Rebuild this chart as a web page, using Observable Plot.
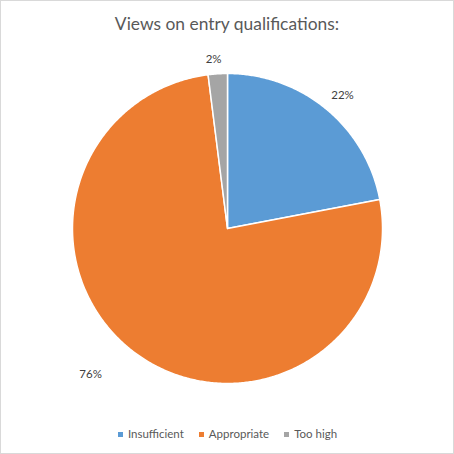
<!DOCTYPE html>
<html>
<head>
<meta charset="utf-8">
<script src="https://cdn.jsdelivr.net/npm/d3@7"></script>
<script src="https://cdn.jsdelivr.net/npm/@observablehq/plot@0.6"></script>
<style>
  html, body { margin: 0; padding: 0; background: #fff; }
  #frame {
    position: relative; width: 452px; height: 452px;
    border: 1px solid #d9d9d9; background: #fff; overflow: hidden;
    font-family: Lato, "Open Sans", sans-serif;
  }
  #title {
    position: absolute; left: 0; right: 0; top: 13.5px;
    text-align: center; font-size: 17.4px; line-height: 17.4px; color: #595959;
  }
  #chart { position: absolute; left: 0; top: 0; }
  #legend {
    position: absolute; left: 1px; right: 0; top: 427px;
    display: flex; justify-content: center; gap: 15px;
    font-size: 11.5px; line-height: 12px; color: #595959;
  }
  .item { display: flex; align-items: center; gap: 5px; }
  .swatch { width: 5px; height: 5px; }
</style>
</head>
<body>
<div id="frame">
  <div id="title">Views on entry qualifications:</div>
  <div id="chart"></div>
  <div id="legend"></div>
</div>
<script>
// Survey answers and their share of respondents (%)
const categories = ["Insufficient", "Appropriate", "Too high"];
const shares = [22, 76, 2];
const sliceColors = ["#5B9BD5", "#ED7D31", "#A5A5A5"];

// Layout of the pie inside the 452px frame
const W = 452, H = 452;
const cx = 226, cy = 227, R = 155;
// label placement: radial distance (in pie radii) and small angular shift (degrees)
const labelLayout = {
  "Insufficient": { radius: 176 / 155, shift: 1.2 },
  "Appropriate": { radius: 200 / 155, shift: 7.2 },
  "Too high": { radius: 170 / 155, shift: -1.1 }
};

const rows = categories.map((c, i) => ({ category: c, value: shares[i] }));
const arcs = d3.pie().sort(null).value(d => d.value)(rows);

// Outline each slice as a polygon: centre, points along the arc, centre
const outline = arcs.flatMap(a => {
  const pts = [{ category: a.data.category, x: 0, y: 0 }];
  const n = Math.max(2, Math.ceil((a.endAngle - a.startAngle) / (Math.PI / 360)));
  for (let k = 0; k <= n; k++) {
    const t = a.startAngle + (a.endAngle - a.startAngle) * k / n;
    pts.push({ category: a.data.category, x: Math.sin(t), y: Math.cos(t) });
  }
  pts.push({ category: a.data.category, x: 0, y: 0 });
  return pts;
});

const labels = arcs.map(a => {
  const lay = labelLayout[a.data.category];
  const t = (a.startAngle + a.endAngle) / 2 + lay.shift * Math.PI / 180;
  return {
    category: a.data.category,
    text: `${a.data.value}%`,
    x: lay.radius * Math.sin(t),
    y: lay.radius * Math.cos(t)
  };
});

const chart = Plot.plot({
  width: W,
  height: H,
  margin: 0,
  style: { background: "transparent", overflow: "visible" },
  x: { domain: [-1, 1], range: [cx - R, cx + R], axis: null },
  y: { domain: [-1, 1], range: [cy + R, cy - R], axis: null },
  color: { domain: categories, range: sliceColors },
  marks: [
    Plot.line(outline, {
      x: "x", y: "y", z: "category",
      fill: "category", stroke: "white", strokeWidth: 1.5,
      strokeLinejoin: "round"
    }),
    Plot.text(labels, {
      x: "x", y: "y", text: "text",
      fill: "#404040", fontSize: 11.5, fontFamily: "Lato, sans-serif"
    })
  ]
});
document.getElementById("chart").append(chart);

// Legend below the pie
const legend = d3.select("#legend");
categories.forEach((c, i) => {
  const item = legend.append("div").attr("class", "item");
  item.append("div").attr("class", "swatch").style("background", sliceColors[i]);
  item.append("span").text(c);
});
</script>
</body>
</html>
